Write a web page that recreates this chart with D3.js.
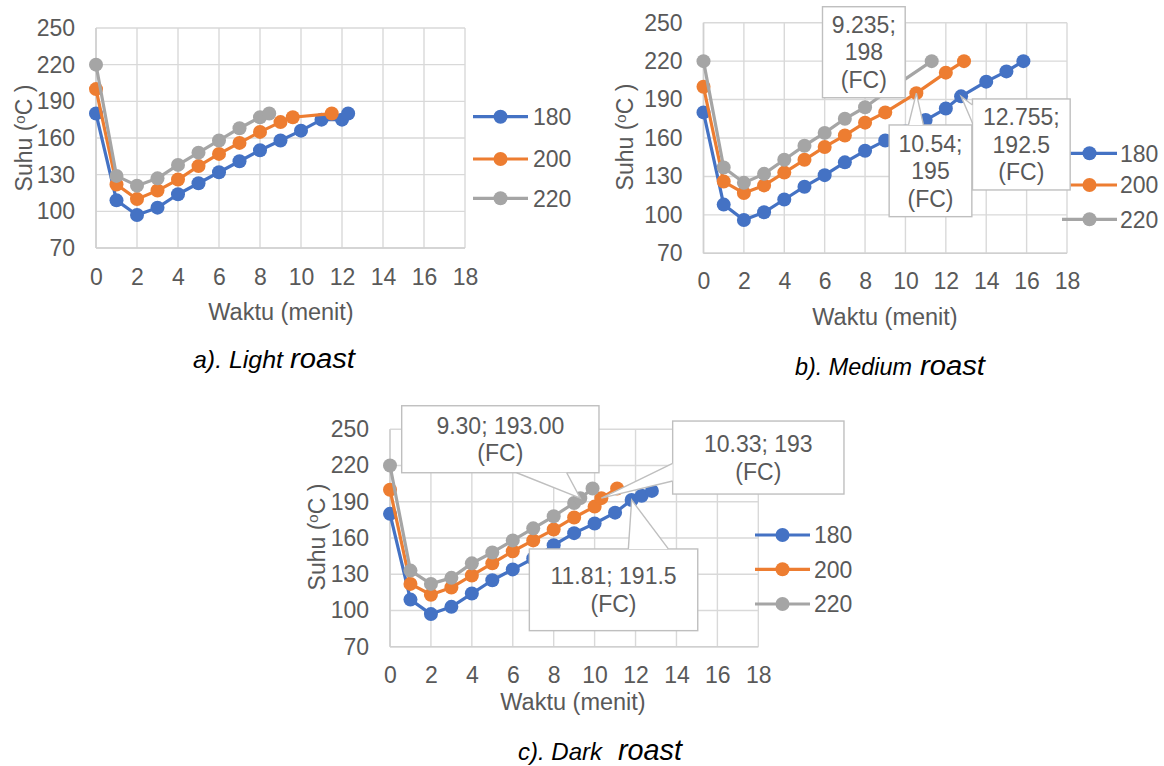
<!DOCTYPE html>
<html>
<head>
<meta charset="utf-8">
<script src="https://cdn.jsdelivr.net/npm/d3@7"></script>
<style>
  body { margin: 0; background: #fff; }
  svg { display: block; font-family: "Liberation Sans", Arial, sans-serif; }
  .tick text { fill: #595959; font-size: 23px; }
</style>
</head>
<body>
<svg id="chart" width="1164" height="766"></svg>
<script>
// series names and colours
var seriesNames = ["180", "200", "220"];
var seriesColors = ["#4472C4", "#ED7D31", "#A5A5A5"];

var xTicks = [0, 2, 4, 6, 8, 10, 12, 14, 16, 18];
var yTicks = [70, 100, 130, 160, 190, 220, 250];

// a) light roast
var lightT180 = [0, 1, 2, 3, 4, 5, 6, 7, 8, 9, 10, 11, 12, 12.3];
var lightS180 = [180, 109, 97, 103, 114, 123, 132, 141, 150, 158, 166, 175, 175, 180];
var lightT200 = [0, 1, 2, 3, 4, 5, 6, 7, 8, 9, 9.6, 11.5];
var lightS200 = [200, 122, 110, 117, 126, 137, 147, 156, 165, 173, 177, 180];
var lightT220 = [0, 1, 2, 3, 4, 5, 6, 7, 8, 8.45];
var lightS220 = [220, 129, 121, 127, 138, 148, 158, 168, 177, 180];

// b) medium roast
var medT180 = [0, 1, 2, 3, 4, 5, 6, 7, 8, 9, 10, 11, 12, 12.755, 14, 15, 15.84];
var medS180 = [180, 108, 96, 102, 112, 122, 131, 141, 150, 158, 165, 174, 183, 192.5, 204, 212, 220];
var medT200 = [0, 1, 2, 3, 4, 5, 6, 7, 8, 9, 10.54, 12, 12.9];
var medS200 = [200, 126, 117, 123, 133, 143, 153, 162, 172, 180, 195, 211, 220];
var medT220 = [0, 1, 2, 3, 4, 5, 6, 7, 8, 9.235, 11.3];
var medS220 = [220, 137, 125, 132, 143, 154, 164, 175, 184, 198, 220];

// c) dark roast
var darkT180 = [0, 1, 2, 3, 4, 5, 6, 7, 8, 9, 10, 11, 11.81, 12.3, 12.8];
var darkS180 = [180, 109, 97, 103, 114, 125, 134, 143, 154, 164, 172, 181, 191.5, 195, 199];
var darkT200 = [0, 1, 2, 3, 4, 5, 6, 7, 8, 9, 10, 10.33, 11.1];
var darkS200 = [200, 122, 113, 119, 129, 139, 149, 158, 167, 177, 186, 193, 201];
var darkT220 = [0, 1, 2, 3, 4, 5, 6, 7, 8, 9, 9.3, 9.9];
var darkS220 = [220, 133, 122, 127, 139, 148, 158, 168, 178, 189, 193, 201];

// first crack labels: [series index, time, temp, text lines]
var medLabels = [
  [2, 9.235, 198, ["9.235;", "198", "(FC)"]],
  [1, 10.54, 195, ["10.54;", "195", "(FC)"]],
  [0, 12.755, 192.5, ["12.755;", "192.5", "(FC)"]]
];
var darkLabels = [
  [2, 9.30, 193, ["9.30; 193.00", "(FC)"]],
  [1, 10.33, 193, ["10.33; 193", "(FC)"]],
  [0, 11.81, 191.5, ["11.81; 191.5", "(FC)"]]
];

function zip(ts, vs) {
  return ts.map(function(t, i) { return { t: t, v: vs[i] }; });
}

var svg = d3.select("#chart");

function drawChart(cfg) {
  var g = svg.append("g");

  var x = d3.scaleLinear().domain([0, 18]).range([cfg.left, cfg.right]);
  var y = d3.scaleLinear().domain([70, 250]).range([cfg.bottom, cfg.top]);

  // grid
  g.selectAll(".vgrid").data(xTicks).enter().append("line")
      .attr("x1", function(d) { return x(d); })
      .attr("x2", function(d) { return x(d); })
      .attr("y1", cfg.top).attr("y2", cfg.bottom)
      .attr("stroke", "#d9d9d9").attr("stroke-width", 1.4);
  g.selectAll(".hgrid").data(yTicks).enter().append("line")
      .attr("y1", function(d) { return y(d); })
      .attr("y2", function(d) { return y(d); })
      .attr("x1", cfg.left).attr("x2", cfg.right)
      .attr("stroke", "#d9d9d9").attr("stroke-width", 1.4);

  // axes (labels only)
  var xa = g.append("g")
      .attr("transform", "translate(0," + cfg.bottom + ")")
      .call(d3.axisBottom(x).tickValues(xTicks).tickSize(0).tickPadding(cfg.xPad));
  xa.select(".domain").remove();
  var ya = g.append("g")
      .attr("transform", "translate(" + cfg.left + ",0)")
      .call(d3.axisLeft(y).tickValues(yTicks).tickSize(0).tickPadding(cfg.yPad));
  ya.select(".domain").remove();

  // axis lines
  g.append("line").attr("x1", cfg.left).attr("x2", cfg.left)
      .attr("y1", cfg.top).attr("y2", cfg.bottom)
      .attr("stroke", "#d0d0d0").attr("stroke-width", 1.6);
  g.append("line").attr("x1", cfg.left).attr("x2", cfg.right)
      .attr("y1", cfg.bottom).attr("y2", cfg.bottom)
      .attr("stroke", "#d0d0d0").attr("stroke-width", 1.6);

  // titles
  g.append("text")
      .attr("x", cfg.xTitle[0]).attr("y", cfg.xTitle[1])
      .attr("text-anchor", "middle")
      .attr("fill", "#595959").attr("font-size", "23.5px")
      .text("Waktu (menit)");

  var yt = g.append("text")
      .attr("transform", "translate(" + cfg.yTitle[0] + "," + cfg.yTitle[1] + ") rotate(-90)")
      .attr("text-anchor", "middle")
      .attr("dy", "0.35em")
      .attr("fill", "#595959").attr("font-size", "23px");
  yt.append("tspan").text("Suhu (");
  yt.append("tspan").attr("font-size", "15px").attr("dy", "-7").text("o");
  yt.append("tspan").attr("dy", "7").text("C )");

  // series
  var line = d3.line()
      .x(function(d) { return x(d.t); })
      .y(function(d) { return y(d.v); });

  cfg.series.forEach(function(s, i) {
    var sg = g.append("g");
    sg.append("path")
        .datum(s)
        .attr("d", line)
        .attr("fill", "none")
        .attr("stroke", seriesColors[i])
        .attr("stroke-width", 3.2)
        .attr("stroke-linejoin", "round");
    sg.selectAll("circle").data(s).enter().append("circle")
        .attr("cx", function(d) { return x(d.t); })
        .attr("cy", function(d) { return y(d.v); })
        .attr("r", 7)
        .attr("fill", seriesColors[i]);
  });

  // legend
  var lg = g.append("g");
  seriesNames.forEach(function(name, i) {
    var ly = cfg.legend.ys[i];
    lg.append("line")
        .attr("x1", cfg.legend.x0).attr("x2", cfg.legend.x1)
        .attr("y1", ly).attr("y2", ly)
        .attr("stroke", seriesColors[i]).attr("stroke-width", 3.2);
    lg.append("circle")
        .attr("cx", (cfg.legend.x0 + cfg.legend.x1) / 2).attr("cy", ly)
        .attr("r", 7).attr("fill", seriesColors[i]);
    lg.append("text")
        .attr("x", cfg.legend.tx).attr("y", ly).attr("dy", "0.36em")
        .attr("fill", "#595959").attr("font-size", "23px")
        .text(name);
  });

  // FC callouts
  (cfg.labels || []).forEach(function(lb, k) {
    var pos = cfg.labelPos[k];
    var px = x(lb[1]), py = y(lb[2]);
    var bx = px + pos.box[0], by = py + pos.box[1], bw = pos.box[2], bh = pos.box[3];
    var cg = g.append("g");
    cg.append("rect")
        .attr("x", bx).attr("y", by).attr("width", bw).attr("height", bh)
        .attr("fill", "#fff").attr("stroke", "#bfbfbf").attr("stroke-width", 1.4);
    if (pos.wedge) {
      var w = pos.wedge;
      var p1, p2;
      if (pos.side === "top") { p1 = [px + w[0], by]; p2 = [px + w[1], by]; }
      if (pos.side === "bottom") { p1 = [px + w[0], by + bh]; p2 = [px + w[1], by + bh]; }
      if (pos.side === "left") { p1 = [bx, py + w[0]]; p2 = [bx, py + w[1]]; }
      cg.append("path")
          .attr("d", "M" + p1 + "L" + px + "," + py + "L" + p2 + "Z")
          .attr("fill", "#fff").attr("stroke", "none");
      cg.append("path")
          .attr("d", "M" + p1 + "L" + px + "," + py + "L" + p2)
          .attr("fill", "none").attr("stroke", "#bfbfbf").attr("stroke-width", 1.4);
    }
    var n = lb[3].length;
    var cy = by + bh / 2;
    lb[3].forEach(function(t, j) {
      cg.append("text")
          .attr("x", bx + bw / 2)
          .attr("y", cy + (j - (n - 1) / 2) * 27.5)
          .attr("dy", "0.36em")
          .attr("text-anchor", "middle")
          .attr("fill", "#595959").attr("font-size", "23px")
          .text(t);
    });
  });
}

drawChart({
  left: 96, right: 465, top: 28, bottom: 248,
  xPad: 21, yPad: 21,
  xTitle: [281, 320], yTitle: [24, 138],
  series: [zip(lightT180, lightS180), zip(lightT200, lightS200), zip(lightT220, lightS220)],
  legend: { x0: 473, x1: 528, tx: 533, ys: [116.7, 159, 198.3] }
});

drawChart({
  left: 703.5, right: 1067, top: 22.7, bottom: 253.3,
  xPad: 19.5, yPad: 21,
  xTitle: [885, 325], yTitle: [625, 137],
  series: [zip(medT180, medS180), zip(medT200, medS200), zip(medT220, medS220)],
  legend: { x0: 1062, x1: 1117, tx: 1120, ys: [153.3, 185, 219.3] },
  labels: medLabels,
  labelPos: [
    { box: [-67.5, -82.6, 82.7, 91] },
    { box: [-27.2, 31.8, 82.7, 91.7], side: "top", wedge: [-7.9, 7.1] },
    { box: [11.4, 2.6, 97.7, 91], side: "left", wedge: [8.6, 26.6] }
  ]
});

drawChart({
  left: 390, right: 758.3, top: 429.3, bottom: 646.7,
  xPad: 19.7, yPad: 21,
  xTitle: [573, 710], yTitle: [317, 537],
  series: [zip(darkT180, darkS180), zip(darkT200, darkS200), zip(darkT220, darkS220)],
  legend: { x0: 755, x1: 810, tx: 814, ys: [535, 569.3, 604] },
  labels: darkLabels,
  labelPos: [
    { box: [-178.6, -92.4, 197.3, 67], side: "bottom", wedge: [-63.6, -13.6] },
    { box: [71.3, -77.1, 171.3, 73], side: "left", wedge: [-34.8, -17.1] },
    { box: [-102.3, 49, 168.4, 81.7], side: "top", wedge: [-3.3, 36.7] }
  ]
});

// captions
function caption(xPos, yPos, first, firstSize, firstLen, gap, second, secondSize, secondLen) {
  var t = svg.append("text")
      .attr("x", xPos).attr("y", yPos)
      .attr("font-style", "italic")
      .attr("fill", "#000");
  t.append("tspan")
      .attr("font-size", firstSize + "px")
      .attr("textLength", firstLen)
      .attr("lengthAdjust", "spacingAndGlyphs")
      .text(first);
  t.append("tspan")
      .attr("x", xPos + firstLen + gap)
      .attr("font-size", secondSize + "px")
      .attr("textLength", secondLen)
      .attr("lengthAdjust", "spacingAndGlyphs")
      .text(second);
}

caption(193, 368, "a). Light", 24, 90, 7, "roast", 27, 65);
caption(795, 375, "b). Medium", 24, 117, 8, "roast", 27, 65);
caption(518, 760, "c). Dark", 24, 84, 16, "roast", 29, 64);
</script>
</body>
</html>
